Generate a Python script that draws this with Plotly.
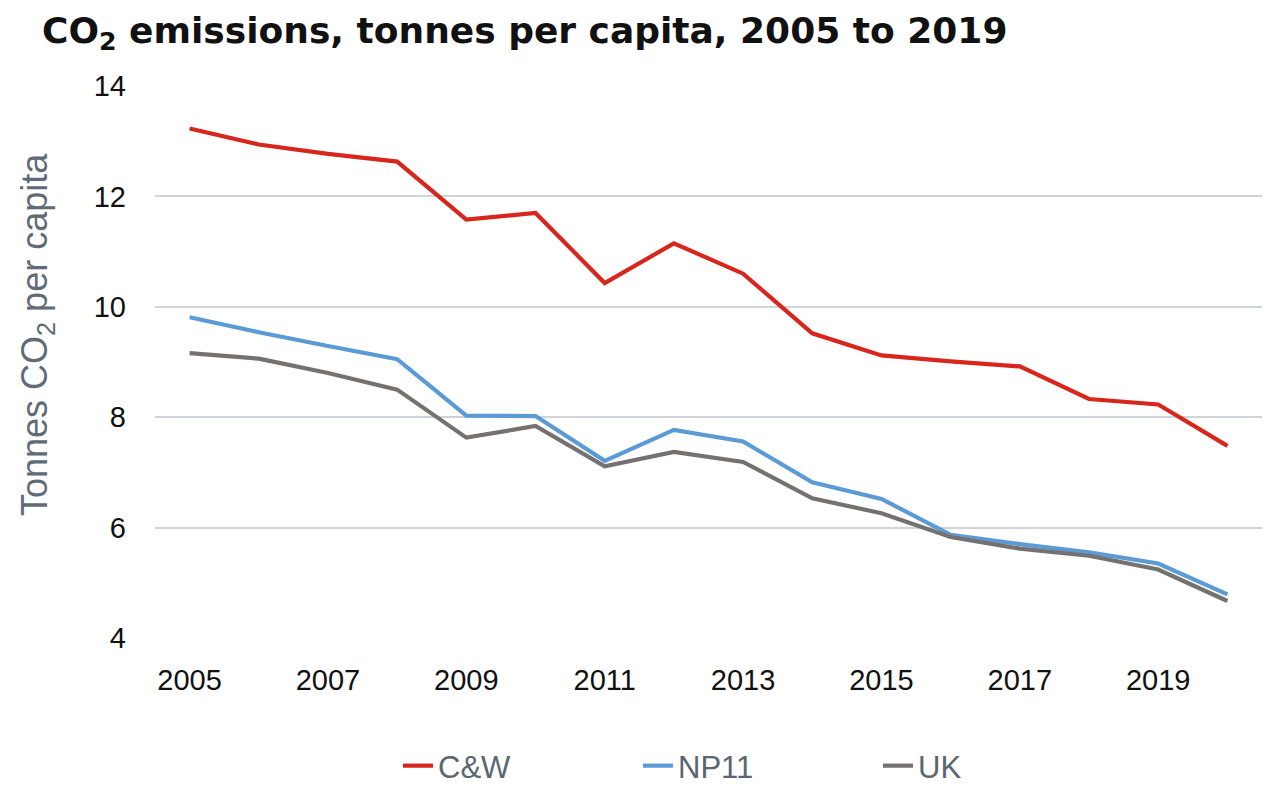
import plotly.graph_objects as go

# Per-capita CO2 emissions (tonnes), 2005-2020
years = list(range(2005, 2021))
cw = [13.23, 12.94, 12.77, 12.63, 11.58, 11.70, 10.43, 11.15,
      10.60, 9.52, 9.12, 9.01, 8.92, 8.33, 8.23, 7.48]
np11 = [9.81, 9.54, 9.29, 9.05, 8.03, 8.02, 7.21, 7.77,
        7.56, 6.82, 6.52, 5.87, 5.70, 5.55, 5.35, 4.79]
uk = [9.16, 9.06, 8.80, 8.50, 7.63, 7.84, 7.11, 7.37,
      7.19, 6.53, 6.26, 5.83, 5.62, 5.49, 5.24, 4.67]

x_ticks = [2005, 2007, 2009, 2011, 2013, 2015, 2017, 2019]
y_ticks = [4, 6, 8, 10, 12, 14]

series = [
    ("C&W", cw, "#d9261c"),
    ("NP11", np11, "#5b9bd5"),
    ("UK", uk, "#767171"),
]

fig = go.Figure()
for name, vals, color in series:
    fig.add_trace(go.Scatter(
        x=years, y=vals, name=name, mode="lines",
        line=dict(color=color, width=4.2),
    ))

tick_font = dict(family="Liberation Sans, Arial, sans-serif", size=29, color="#111111")

fig.update_layout(
    width=1270, height=786,
    margin=dict(l=155, r=8, t=86, b=148, autoexpand=False),
    paper_bgcolor="white", plot_bgcolor="white",
    title=dict(
        text="<b>CO<sub>2</sub> emissions, tonnes per capita, 2005 to 2019</b>",
        font=dict(family="DejaVu Sans, sans-serif", size=36, color="#111111"),
        x=42 / 1270, xanchor="left", y=1 - 30 / 786, yanchor="middle",
    ),
    xaxis=dict(
        range=[2004.5, 2020.5], tickvals=x_ticks, ticktext=[str(v) for v in x_ticks],
        showgrid=False, zeroline=False, showline=False,
        tickfont=tick_font, ticks="", ticklabelstandoff=22,
    ),
    yaxis=dict(
        range=[4, 14], tickvals=y_ticks,
        showgrid=True, gridcolor="#d0d4d9", gridwidth=1.5,
        zeroline=False, showline=False,
        tickfont=tick_font, ticks="", ticklabelstandoff=28,
    ),
    legend=dict(
        orientation="h", x=(398 - 155) / 1107, xanchor="left",
        y=(638 - 766) / 552, yanchor="middle",
        font=dict(family="Liberation Sans, Arial, sans-serif", size=31, color="#5a6670"),
        entrywidth=195, entrywidthmode="pixels", traceorder="normal",
    ),
    showlegend=True,
)

fig.add_annotation(
    text="Tonnes CO<sub>2</sub> per capita",
    xref="paper", yref="paper",
    x=-118 / 1107, y=(638 - 335) / 552,
    xanchor="center", yanchor="middle",
    textangle=-90, showarrow=False,
    font=dict(family="Liberation Sans, Arial, sans-serif", size=36, color="#5f6b77"),
)

fig.write_html("out.html")
